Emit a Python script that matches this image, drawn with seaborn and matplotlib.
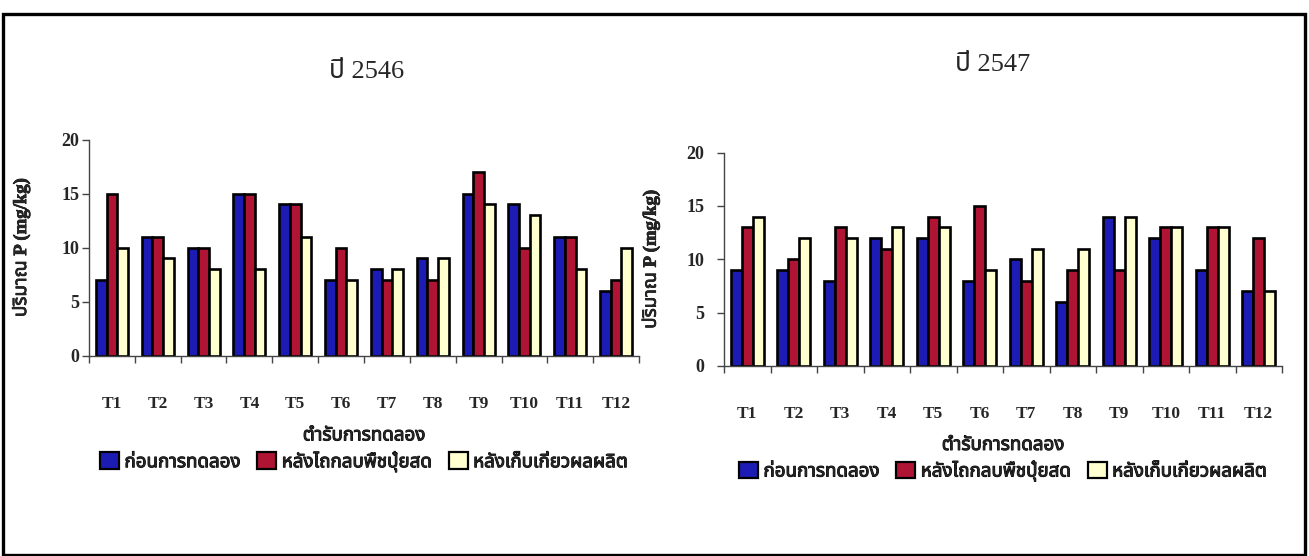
import numpy as np
import pandas as pd
import matplotlib
matplotlib.use("Agg")
import matplotlib.pyplot as plt
from matplotlib import font_manager
from matplotlib.patches import Rectangle, Patch
import matplotlib.patheffects as pe
import seaborn as sns

# ---- data -------------------------------------------------------------
treatments = ["T1", "T2", "T3", "T4", "T5", "T6",
              "T7", "T8", "T9", "T10", "T11", "T12"]
stages = ["ก่อนการทดลอง", "หลังไถกลบพืชปุ๋ยสด", "หลังเก็บเกี่ยวผลผลิต"]

# year 2546 (mg/kg)
p2546_before = [7, 11, 10, 15, 14, 7, 8, 9, 15, 14, 11, 6]
p2546_plowed = [15, 11, 10, 15, 14, 10, 7, 7, 17, 10, 11, 7]
p2546_harvest = [10, 9, 8, 8, 11, 7, 8, 9, 14, 13, 8, 10]

# year 2547 (mg/kg)
p2547_before = [9, 9, 8, 12, 12, 8, 10, 6, 14, 12, 9, 7]
p2547_plowed = [13, 10, 13, 11, 14, 15, 8, 9, 9, 13, 13, 12]
p2547_harvest = [14, 12, 12, 13, 13, 9, 11, 11, 14, 13, 13, 7]

y_ticks = [0, 5, 10, 15, 20]
colors = ["#1c1cb4", "#b01434", "#ffffd0"]


# ---- fonts: find a family that can draw Thai --------------------------
def thai_families():
    try:
        from fontTools.ttLib import TTFont
    except Exception:
        return []
    found = []
    for entry in font_manager.fontManager.ttflist:
        if entry.name in found:
            continue
        try:
            font = TTFont(entry.fname, fontNumber=0, lazy=True)
            cmap = font.getBestCmap() or {}
        except Exception:
            continue
        if 0x0E01 in cmap and 0x0E33 in cmap and 0x0E1B in cmap:
            found.append(entry.name)
    preferred = ["Noto Sans Thai", "Noto Sans Thai UI", "Noto Serif Thai",
                 "Loma", "Garuda", "Norasi", "Sarabun", "Tlwg Typist"]
    found.sort(key=lambda n: preferred.index(n) if n in preferred else 99)
    return found


sns.set_style("white")
thai = thai_families()
serif_list = ["Liberation Serif"] + thai + ["DejaVu Sans"]
thai_list = thai + ["Liberation Serif", "DejaVu Sans"]
plt.rcParams["font.family"] = serif_list

# a thin stroke thickens the Thai glyphs to a bold look
heavy = [pe.withStroke(linewidth=0.7, foreground="black")]

fig = plt.figure(figsize=(13.09, 5.56), dpi=100)
W, H = 1309, 556


def px_axes(x0, x1, ytop, ybot):
    return fig.add_axes([x0 / W, 1 - ybot / H, (x1 - x0) / W, (ybot - ytop) / H])


def draw_panel(ax, before, plowed, harvest, ylab_x, ytick_pad, title_xy, title):
    df = pd.DataFrame({
        "treatment": treatments * 3,
        "stage": np.repeat(stages, len(treatments)),
        "value": before + plowed + harvest,
    })
    sns.barplot(data=df, x="treatment", y="value", hue="stage",
                order=treatments, hue_order=stages, palette=colors,
                saturation=1, width=0.7, gap=0, errorbar=None,
                edgecolor="black", linewidth=1.9, legend=False, ax=ax)
    ax.set_xlim(-0.5, len(treatments) - 0.5)
    ax.set_ylim(0, 20)
    ax.set_yticks(y_ticks)
    ax.set_yticklabels([str(t) for t in y_ticks], fontsize=13,
                       fontweight="bold", family=serif_list)
    ax.tick_params(axis="y", direction="out", length=5, width=1,
                   color="#444444", pad=ytick_pad, left=True)
    ax.set_xticks(range(len(treatments)))
    ax.set_xticklabels(treatments, fontsize=12.5, fontweight="bold",
                       family=serif_list)
    ax.tick_params(axis="x", which="major", length=0, pad=29)
    ax.set_xticks(np.arange(-0.5, len(treatments), 1), minor=True)
    ax.tick_params(axis="x", which="minor", direction="out", length=5,
                   width=1, color="#444444", bottom=True)
    for side in ["top", "right"]:
        ax.spines[side].set_visible(False)
    for side in ["left", "bottom"]:
        ax.spines[side].set_color("#444444")
        ax.spines[side].set_linewidth(1)
    ax.set_xlabel("")
    ylab = ax.set_ylabel("ปริมาณ P (mg/kg)", fontsize=13.5, fontweight="bold",
                         family=serif_list)
    ylab.set_path_effects([pe.withStroke(linewidth=0.5, foreground="black")])
    ax.yaxis.set_label_coords(ylab_x, 0.5)

    ax.text(0.5, -0.37, "ตำรับการทดลอง", transform=ax.transAxes,
            ha="center", va="center", fontsize=13.5, fontweight="bold",
            family=thai_list, path_effects=heavy)
    handles = [Patch(facecolor=c, edgecolor="black", linewidth=1.6)
               for c in colors]
    leg = ax.legend(handles, stages, loc="center", bbox_to_anchor=(0.5, -0.49),
                    ncol=3, frameon=False, handlelength=1.0, handleheight=1.0,
                    handletextpad=0.3, columnspacing=0.9,
                    prop={"family": thai_list, "size": 13.5, "weight": "bold"})
    for t in leg.get_texts():
        t.set_path_effects(heavy)
    fig.text(title_xy[0] / W, 1 - title_xy[1] / H, title, ha="center",
             va="center", fontsize=19, family=serif_list)


ax1 = px_axes(89, 639, 139.5, 355.5)
draw_panel(ax1, p2546_before, p2546_plowed, p2546_harvest,
           -0.107, 2, (367, 72), "ปี 2546")

ax2 = px_axes(724, 1282, 152.5, 366)
draw_panel(ax2, p2547_before, p2547_plowed, p2547_harvest,
           -0.115, 9, (993, 65), "ปี 2547")

# outer frame around both charts
fig.add_artist(Rectangle((3 / W, 1.5 / H), (1305 - 3) / W, (542.5 - 1.5) / H,
                         transform=fig.transFigure, fill=False,
                         edgecolor="black", linewidth=2.4))

fig.savefig("out.png", dpi=100)
